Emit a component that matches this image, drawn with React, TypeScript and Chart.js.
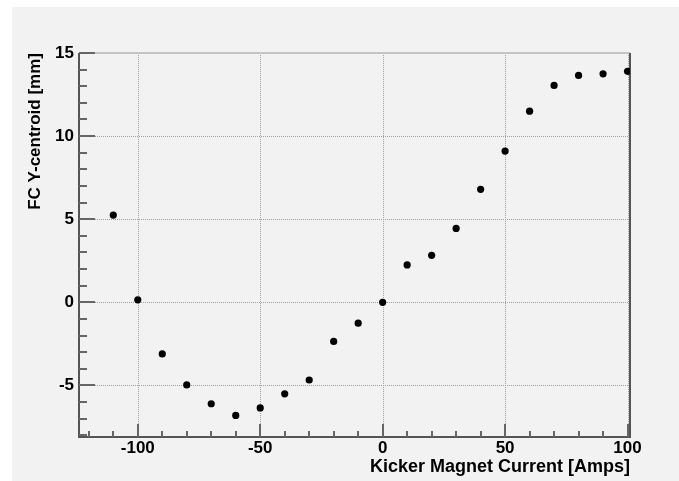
import React, { useEffect, useRef } from "react";
import { Chart, registerables } from "chart.js";

Chart.register(...registerables);

const currents = [-110, -100, -90, -80, -70, -60, -50, -40, -30, -20, -10, 0, 10, 20, 30, 40, 50, 60, 70, 80, 90, 100];
const centroids = [5.25, 0.15, -3.1, -4.97, -6.1, -6.8, -6.35, -5.5, -4.67, -2.35, -1.25, 0.0, 2.25, 2.83, 4.45, 6.8, 9.1, 11.5, 13.05, 13.65, 13.75, 13.9];

const xTickLabels = [-100, -50, 0, 50, 100];
const yTickLabels = [-5, 0, 5, 10, 15];
const xTitle = "Kicker Magnet Current [Amps]";
const yTitle = "FC Y-centroid [mm]";
const xMajorStep = 50;
const xMinorStep = 10;
const yMajorStep = 5;
const yMinorStep = 1;

const FONT = "'Liberation Sans', Arial, Helvetica, sans-serif";

const bgPlugin = {
  id: "bgPlugin",
  beforeDraw(chart: any) {
    const { ctx, width, height } = chart;
    ctx.save();
    ctx.fillStyle = "#ffffff";
    ctx.fillRect(0, 0, width, height);
    ctx.fillStyle = "#f2f2f2";
    ctx.fillRect(12, 7, width - 12, height - 7);
    ctx.restore();
  },
};

const framePlugin = {
  id: "framePlugin",
  beforeDatasetsDraw(chart: any) {
    const { ctx, chartArea } = chart;
    const { left, right, top, bottom } = chartArea;
    const xs = chart.scales.x;
    const ys = chart.scales.y;
    ctx.save();
    // dotted grid
    ctx.strokeStyle = "#a0a0a0";
    ctx.lineWidth = 1;
    ctx.setLineDash([1, 1]);
    for (let v = Math.ceil(xs.min / xMajorStep) * xMajorStep; v <= xs.max; v += xMajorStep) {
      const px = Math.round(xs.getPixelForValue(v)) + 0.5;
      ctx.beginPath();
      ctx.moveTo(px, top);
      ctx.lineTo(px, bottom);
      ctx.stroke();
    }
    for (let v = Math.ceil(ys.min / yMajorStep) * yMajorStep; v < ys.max; v += yMajorStep) {
      const py = Math.round(ys.getPixelForValue(v)) + 0.5;
      ctx.beginPath();
      ctx.moveTo(left, py);
      ctx.lineTo(right, py);
      ctx.stroke();
    }
    ctx.setLineDash([]);
    // frame
    ctx.lineWidth = 2;
    ctx.strokeStyle = "#c4c4c4";
    ctx.beginPath();
    ctx.moveTo(left, top);
    ctx.lineTo(right, top);
    ctx.stroke();
    ctx.strokeStyle = "#555555";
    ctx.beginPath();
    ctx.moveTo(right, top);
    ctx.lineTo(right, bottom);
    ctx.lineTo(left, bottom);
    ctx.lineTo(left, top);
    ctx.stroke();
    // ticks
    ctx.strokeStyle = "#666666";
    ctx.lineWidth = 2;
    for (let v = Math.ceil(xs.min / xMinorStep) * xMinorStep; v <= xs.max; v += xMinorStep) {
      const px = Math.round(xs.getPixelForValue(v));
      const major = Math.abs(v % xMajorStep) < 1e-9;
      ctx.beginPath();
      ctx.moveTo(px, bottom);
      ctx.lineTo(px, bottom - (major ? 13 : 6));
      ctx.stroke();
    }
    for (let v = Math.ceil(ys.min / yMinorStep) * yMinorStep; v <= ys.max + 1e-9; v += yMinorStep) {
      const py = Math.round(ys.getPixelForValue(v));
      const major = Math.abs(v % yMajorStep) < 1e-9;
      ctx.beginPath();
      ctx.moveTo(left, py);
      ctx.lineTo(left + (major ? 16 : 8), py);
      ctx.stroke();
    }
    ctx.restore();
  },
};

export default function App() {
  const ref = useRef<HTMLCanvasElement | null>(null);
  useEffect(() => {
    if (!ref.current) return;
    const chart = new Chart(ref.current, {
      type: "scatter",
      data: {
        datasets: [
          {
            data: currents.map((c, i) => ({ x: c, y: centroids[i] })),
            backgroundColor: "#000000",
            borderColor: "#000000",
            pointRadius: 3.6,
            pointBorderWidth: 0,
            showLine: false,
          },
        ],
      },
      options: {
        responsive: false,
        animation: false,
        devicePixelRatio: 1,
        layout: { padding: { top: 53, right: 49, left: 0, bottom: 0 } },
        plugins: { legend: { display: false }, tooltip: { enabled: false } },
        scales: {
          x: {
            type: "linear",
            min: -124,
            max: 101,
            grid: { display: false, drawTicks: false },
            border: { display: false },
            afterBuildTicks: (s: any) => {
              s.ticks = xTickLabels.map((v) => ({ value: v }));
            },
            ticks: {
              autoSkip: false,
              maxRotation: 0,
              padding: 1,
              color: "#000",
              font: { family: FONT, size: 17, weight: "bold" },
              callback: (v: any) => String(v),
            },
            title: {
              display: true,
              text: xTitle,
              align: "end",
              color: "#000",
              font: { family: FONT, size: 18, weight: "bold" },
              padding: { top: 0, bottom: 3 },
            },
            afterFit: (s: any) => {
              s.height = 44;
            },
          },
          y: {
            type: "linear",
            min: -8.1,
            max: 15,
            grid: { display: false, drawTicks: false },
            border: { display: false },
            afterBuildTicks: (s: any) => {
              s.ticks = yTickLabels.map((v) => ({ value: v }));
            },
            ticks: {
              autoSkip: false,
              padding: 5,
              color: "#000",
              font: { family: FONT, size: 17, weight: "bold" },
              callback: (v: any) => String(v),
            },
            title: {
              display: true,
              text: yTitle,
              align: "end",
              color: "#000",
              font: { family: FONT, size: 17, weight: "bold" },
              padding: { top: 25, bottom: 0 },
            },
            afterFit: (s: any) => {
              s.width = 79;
            },
          },
        },
      } as any,
      plugins: [bgPlugin, framePlugin],
    });
    return () => chart.destroy();
  }, []);
  return (
    <div style={{ position: "fixed", left: 0, top: 0, width: 679, height: 481 }}>
      <canvas ref={ref} width={679} height={481} style={{ display: "block" }} />
    </div>
  );
}
